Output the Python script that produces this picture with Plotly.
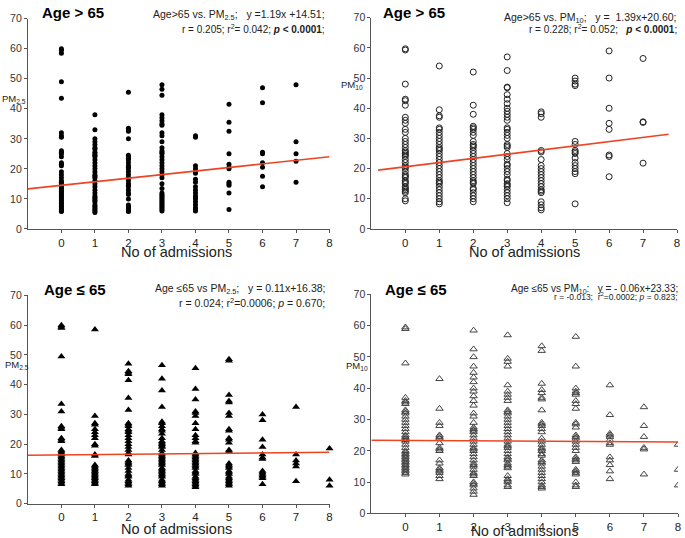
import numpy as np
import plotly.graph_objects as go

W, H = 685, 538

admissions = [0, 1, 2, 3, 4, 5, 6, 7, 8]

# Age > 65, PM2.5 (per admission count)
old_pm25 = [
    [60, 59.5, 58.5, 49, 43.5, 32, 31, 30.5, 26, 25.5, 25, 24, 22, 21.5, 21, 19, 18, 17, 16, 15.5, 15,
     14.5, 14, 13.5, 13, 12.5, 12, 11.5, 11, 10.5, 10, 9.5, 9, 8.5, 8, 7.5, 7, 6.5, 6, 5.8],
    [38, 33, 30, 29, 28, 27, 26.5, 25.5, 25, 24.5, 24, 23, 22, 21, 20, 19, 18, 17.5, 17, 16, 15, 14, 13,
     12, 11, 10.5, 10, 9.5, 9, 8, 7.5, 7, 6.5, 6, 5.5],
    [45.5, 33.5, 33, 32.5, 30, 24.5, 24, 23.5, 23, 22, 21, 20.5, 20, 19, 18, 17, 16, 15, 14.5, 14, 13, 12,
     11.5, 10, 8, 7.5, 7, 6.5, 6, 5.8],
    [48, 46.5, 44.5, 38, 37, 36, 35, 34.5, 32, 31, 29, 27, 26, 25.5, 25, 24, 23, 22, 21, 20, 19, 18, 17,
     15, 13.5, 12, 11.5, 11, 10.5, 10, 9.5, 9, 8.5, 8, 7.5, 7, 6.5, 6],
    [31, 30.5, 21, 20, 19, 18.5, 16.5, 15.5, 14, 13, 12, 11, 10.5, 10, 9, 8, 7, 6.5, 6],
    [41.5, 35.5, 32.5, 25, 21.5, 20.5, 20, 15.5, 15, 14.5, 12, 6.5],
    [47, 42, 25.5, 25, 22, 20.5, 17.5, 14],
    [48, 29, 25, 22.5, 15.5],
    [],
]

# Age > 65, PM10
old_pm10 = [
    [59.7, 59.3, 48, 43, 42.5, 41, 37, 36, 35, 33, 32, 30, 29, 28, 27, 26, 25.5, 25, 24.5, 24, 23, 22, 21,
     20.5, 20, 19, 18, 17.5, 17, 16, 15.5, 15, 14, 13.5, 13, 12.5, 12, 10, 9.3],
    [54, 39.5, 37.5, 37, 33.5, 33, 32, 31, 30, 29, 28, 27, 26.5, 26, 25, 24, 23, 22, 21, 20, 19, 18, 17,
     16, 15.5, 15, 14, 13, 12, 11, 10, 9, 8.3],
    [52, 41, 38, 34, 33.5, 33, 32, 31, 29, 28, 27.5, 27, 26, 25, 24, 23, 22, 21, 20, 19, 18, 17, 16, 15.5,
     15, 13.5, 13, 12, 11, 10, 9],
    [57, 52.5, 47, 46.8, 44.5, 43, 41.5, 40, 39, 38, 37, 36, 33.5, 33, 32, 31, 30, 28, 27.5, 27, 25, 24,
     23, 21.5, 21, 20, 19, 18, 16.5, 16, 15, 14.5, 14, 13, 12, 11, 10, 8.7],
    [38.8, 38.2, 37, 26, 25.5, 23, 21, 20, 19, 18, 17, 16, 15, 14, 13, 12.5, 12, 9, 8, 7, 6.3],
    [50, 49, 48, 47.5, 29, 28, 26, 25.5, 25, 23.5, 22, 21, 20, 19, 18.3, 8.3],
    [59, 50, 40, 35, 33, 24.5, 24, 17.3],
    [56.5, 35.5, 35.3, 21.8],
    [],
]

# Age <= 65, PM2.5
young_pm25 = [
    [60, 59.5, 59, 49.5, 33.5, 31, 26, 25.5, 25, 22, 21.5, 21, 18, 17.5, 17, 16.5, 16, 15.5, 15, 14.5, 14,
     13.5, 13, 12.5, 12, 11.5, 11, 10.5, 10, 9.5, 9, 8.5, 8, 7.5, 7, 6.5],
    [58.5, 29.5, 27, 26.5, 25, 24, 23, 22, 20, 19.5, 16.5, 16, 13, 12.5, 12, 11.5, 11, 10.5, 10, 9.5, 9,
     8.5, 8, 7.5, 7, 6.5],
    [47, 44.5, 44, 43.5, 41.5, 35.5, 31.5, 27, 26.5, 26, 25, 24.5, 24, 23, 22, 21, 20, 19, 18, 17, 16.5,
     14.5, 14, 13.5, 13, 12, 11, 10, 9.5, 9, 8, 7.5, 7, 6.5, 6],
    [46.5, 42, 38, 32.5, 27.5, 27, 26, 25, 24.5, 23.5, 22, 21, 20.5, 20, 19.5, 19, 18, 17, 16.5, 16, 15.5,
     15, 14.5, 14, 13.5, 13, 12, 11.5, 11, 10.5, 10, 9.5, 9, 8, 7.5, 7, 6.5, 6],
    [45.5, 38.5, 35, 31, 30.5, 29.5, 27, 25, 23, 22, 21, 20.5, 17, 16.5, 16, 15.5, 15, 14.5, 14, 13.5, 13,
     12.5, 12, 11, 10.5, 10, 9, 8.5, 8, 7.5, 7, 6.5, 6, 5.5],
    [48.5, 48, 36.5, 34.5, 34, 30.5, 29.5, 25, 24.5, 22, 21.5, 20.5, 18, 17.5, 13.5, 13, 12.5, 12, 11,
     10.5, 10, 9, 8.5, 8, 7.5, 7, 6.5, 6],
    [30, 28, 21.5, 19, 16.5, 15.5, 15, 11, 10.5, 10, 9.5, 9, 8.5, 6.5],
    [32.5, 16.5, 14.5, 13.5, 12.5, 7.5],
    [18.5, 8, 6],
]

# Age <= 65, PM10
young_pm10 = [
    [59.5, 59, 48, 37, 36, 35.5, 35, 33, 32.5, 32, 31, 30, 29, 28, 27, 26, 25, 24.5, 24, 23.5, 23, 22, 21,
     20, 19.5, 19, 18.5, 18, 17.5, 17, 16.5, 16, 15.5, 15, 14.5, 14, 13.5, 13, 12.5],
    [43, 33.5, 29, 28, 25, 24.5, 24, 22.5, 21, 20.5, 20, 17, 16, 14.5, 14, 13.5, 13, 12, 11],
    [58.5, 52.5, 50, 47, 45, 43.5, 42, 40, 39, 37.5, 36, 34.5, 32, 31, 29, 27.5, 27, 26.5, 26, 25, 24, 23,
     22, 21, 20.5, 20, 19, 18, 17, 16, 15.5, 15, 14, 13, 12.5, 12, 10, 9.5, 9, 8, 7, 6],
    [57, 49.5, 48.5, 47, 41, 39, 38, 37, 36, 33, 32.5, 32, 31, 30, 29, 28, 27, 26, 25, 24, 23, 22, 21.5,
     21, 20, 19, 18, 17.5, 17, 16, 15.5, 15, 14.5, 12, 11, 10.5, 10, 9, 8.5],
    [53.5, 52, 41.5, 39.5, 38.5, 37, 36.5, 33, 29, 28.5, 28, 27, 26, 24, 23, 22, 21, 20.5, 20, 19, 18.5,
     17, 16.5, 16, 15, 14, 13, 12, 11, 10, 9, 8.5, 8],
    [56.5, 47, 40, 39, 38.5, 38, 36, 35, 33.5, 29, 28.5, 27.5, 25, 24.5, 24, 23, 22, 21, 20, 18, 17.5, 17,
     16.5, 14, 13.5, 13, 12.5, 10, 9, 8.5],
    [41, 31.5, 25.5, 25, 24.5, 23.5, 22.5, 22, 18, 17, 15.5, 13.5, 11],
    [34, 28, 24.5, 21, 20.5, 12.5],
    [22, 14, 9],
]

slopes = [1.19, 1.39, 0.11, -0.06]
intercepts = [14.51, 20.60, 16.38, 23.33]
line_x = [[-1, 8], [-0.8, 7.75], [-1, 8], [-1, 8]]

titles = ["<b>Age > 65</b>", "<b>Age > 65</b>", "<b>Age \u2264 65</b>", "<b>Age \u2264 65</b>"]
ylabels = ["PM<sub>2.5</sub>", "PM<sub>10</sub>", "PM<sub>2.5</sub>", "PM<sub>10</sub>"]
eq_line1 = [
    "Age>65 vs. PM<sub>2.5</sub>;\u00a0\u00a0 y =1.19x +14.51;",
    "Age>65 vs. PM<sub>10</sub>;\u00a0\u00a0 y =\u00a0 1.39x+20.60;",
    "Age \u226465 vs PM<sub>2.5</sub>;\u00a0\u00a0 y = 0.11x+16.38;",
    "Age \u226465 vs PM<sub>10</sub>:\u00a0\u00a0 y = - 0.06x+23.33;",
]
eq_line2 = [
    "r = 0.205; r<sup>2</sup>= 0.042; <b><i>p</i> &lt; 0.0001</b>;",
    "r = 0.228; r<sup>2</sup>= 0.052;\u00a0\u00a0 <b><i>p</i> &lt; 0.0001</b>;",
    "r = 0.024; r<sup>2</sup>=0.0006; <i>p</i> = 0.670;",
    "r = -0.013;\u00a0 r<sup>2</sup>=0.0002; <i>p</i> = 0.823;",
]

FONT = "Liberation Sans, Arial, sans-serif"
RED = "#EE4422"


def px(x):
    return x / W


def py(y):
    return 1 - y / H


# panel boxes in pixels: left, right, top, bottom
boxes = [(28, 331, 13, 228), (373, 680, 12, 228), (28, 331, 296, 509), (373, 681, 295, 519)]
markers = [
    dict(symbol="circle", size=5, color="black"),
    dict(symbol="circle-open", size=6, color="#222", line=dict(width=1)),
    dict(symbol="triangle-up", size=7, color="black"),
    dict(symbol="triangle-up-open", size=6.5, color="#444", line=dict(width=1)),
]
datasets = [old_pm25, old_pm10, young_pm25, young_pm10]

fig = go.Figure()
for i, data in enumerate(datasets):
    xs, ys = [], []
    for a, vals in zip(admissions, data):
        xs += [a] * len(vals)
        ys += vals
    sfx = "" if i == 0 else str(i + 1)
    fig.add_trace(go.Scatter(x=xs, y=ys, mode="markers", marker=markers[i],
                             xaxis="x" + sfx, yaxis="y" + sfx, showlegend=False,
                             cliponaxis=(i == 3)))
    lx = np.array(line_x[i], dtype=float)
    fig.add_trace(go.Scatter(x=lx, y=slopes[i] * lx + intercepts[i], mode="lines",
                             line=dict(color=RED, width=1.6),
                             xaxis="x" + sfx, yaxis="y" + sfx, showlegend=False))

    l, r, t, b = boxes[i]
    axcommon = dict(showgrid=False, zeroline=False, showline=True, linecolor="#555", linewidth=1,
                    ticks="outside", ticklen=3, tickcolor="#555")
    fig.layout["xaxis" + sfx] = dict(axcommon, domain=[px(l), px(r)], range=[-1, 8],
                                     tickvals=admissions, anchor="y" + sfx,
                                     tickfont=dict(family=FONT, size=11.5, color="#222"))
    fig.layout["yaxis" + sfx] = dict(axcommon, domain=[py(b), py(t)], range=[0, 70],
                                     tickvals=list(range(0, 71, 10)), anchor="x" + sfx,
                                     tickfont=dict(family=FONT, size=10.5, color="#333"))

ann = []
title_pos = [(40, 7), (383, 7), (42, 290), (385, 290)]
ylab_pos = [(0, 95), (340, 81), (3, 367), (346, 368)]
eq1_pos = [(328, 9), (682, 12), (328, 289), (683, 289)]
eq2_pos = [(328, 24), (682, 24), (328, 303), (683, 297)]
eq_sizes = [(10.5, 10), (10.5, 10), (10.5, 10.5), (10, 8.5)]
# "No of admissions": top edge of the text box
xt_pos = [(177, 241), (527, 241), (177, 525), (527, 527)]
xt_sizes = [14.5, 14.5, 14.5, 14]
for i in range(4):
    ann.append(dict(text=titles[i], x=px(title_pos[i][0]), y=py(title_pos[i][1]), xanchor="left",
                    yanchor="middle", font=dict(family=FONT, size=15, color="black")))
    ann.append(dict(text=ylabels[i], x=px(ylab_pos[i][0]), y=py(ylab_pos[i][1]), xanchor="left",
                    yanchor="middle", font=dict(family=FONT, size=9.5, color="#222")))
    ann.append(dict(text=eq_line1[i], x=px(eq1_pos[i][0]), y=py(eq1_pos[i][1]), xanchor="right",
                    yanchor="middle", font=dict(family=FONT, size=eq_sizes[i][0], color="#222")))
    ann.append(dict(text=eq_line2[i], x=px(eq2_pos[i][0]), y=py(eq2_pos[i][1]), xanchor="right",
                    yanchor="middle", font=dict(family=FONT, size=eq_sizes[i][1], color="#222")))
    ann.append(dict(text="No of admissions", x=px(xt_pos[i][0]), y=py(xt_pos[i][1]), xanchor="center",
                    yanchor="top", font=dict(family=FONT, size=xt_sizes[i], color="#222")))
for a in ann:
    a.update(xref="paper", yref="paper", showarrow=False)

fig.update_layout(width=W, height=H, margin=dict(l=0, r=0, t=0, b=0),
                  paper_bgcolor="white", plot_bgcolor="white", annotations=ann)

# drop the browser's default body margin and scrollbars so the figure fills the window exactly
page_css = ("document.documentElement.style.overflow='hidden';"
            "document.body.style.margin='0px';document.body.style.overflow='hidden';")
fig.write_html("out.html", config={"displayModeBar": False}, post_script=page_css)
